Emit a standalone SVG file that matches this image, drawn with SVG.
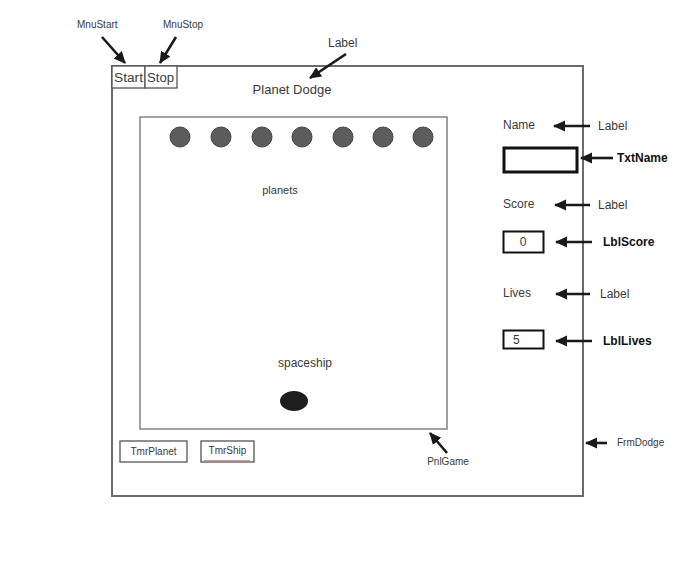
<svg xmlns="http://www.w3.org/2000/svg" width="693" height="583" viewBox="0 0 693 583">
  <style>
    text { font-family: "Liberation Sans", Arial, sans-serif; fill: #3a3a3a; }
    .sm { font-size: 10px; }
    .md { font-size: 12px; }
    .bd { font-size: 12px; font-weight: bold; fill: #111; }
    .frame { fill: #fff; stroke: #6a6a6a; stroke-width: 2; }
    .panel { fill: #fff; stroke: #8a8a8a; stroke-width: 1.6; }
    .btn { fill: #fff; stroke: #555; stroke-width: 1.3; }
    .conn { stroke: #1a1a1a; stroke-width: 2.6; fill: none; marker-end: url(#head); }
    .planet { fill: #5c5c5c; stroke: #444; stroke-width: 1; }
  </style>
  <defs>
    <marker id="head" markerUnits="userSpaceOnUse" markerWidth="13" markerHeight="13" viewBox="0 0 13 13" refX="11" refY="6.5" orient="auto">
      <path d="M0,1 L12,6.5 L0,12 Z" fill="#1a1a1a"/>
    </marker>
  </defs>
  <rect width="693" height="583" fill="#fff"/>

  <!-- main window -->
  <g id="FrmDodge">
    <rect class="frame" x="112" y="66" width="471" height="430"/>
    <text class="sm" x="617" y="446">FrmDodge</text>
  </g>

  <g id="MnuStart">
    <rect class="btn" x="112" y="66" width="33" height="22"/>
    <text class="md" x="114" y="82" textLength="29" lengthAdjust="spacingAndGlyphs">Start</text>
    <text class="sm" x="77" y="28">MnuStart</text>
  </g>
  <g id="MnuStop">
    <rect class="btn" x="145" y="66" width="32" height="22"/>
    <text class="md" x="147" y="82" textLength="27" lengthAdjust="spacingAndGlyphs">Stop</text>
    <text class="sm" x="163" y="28">MnuStop</text>
  </g>

  <g id="TitleLabel">
    <text class="md" x="328" y="47">Label</text>
    <text x="292" y="94" font-size="13" text-anchor="middle">Planet Dodge</text>
  </g>

  <!-- game panel -->
  <g id="PnlGame">
    <rect class="panel" x="140" y="117" width="307" height="312"/>
    <text class="sm" x="448" y="465" text-anchor="middle">PnlGame</text>
  </g>

  <g id="planets">
    <circle class="planet" cx="180" cy="137" r="10"/>
    <circle class="planet" cx="221" cy="137" r="10"/>
    <circle class="planet" cx="262" cy="137" r="10"/>
    <circle class="planet" cx="302" cy="137" r="10"/>
    <circle class="planet" cx="343" cy="137" r="10"/>
    <circle class="planet" cx="383" cy="137" r="10"/>
    <circle class="planet" cx="423" cy="137" r="10"/>
    <text x="280" y="194" font-size="11" text-anchor="middle">planets</text>
  </g>

  <g id="spaceship">
    <text class="md" x="305" y="367" text-anchor="middle">spaceship</text>
    <ellipse cx="294" cy="401" rx="14" ry="10" fill="#1e1e1e"/>
  </g>

  <g id="TmrPlanet">
    <rect class="btn" x="120" y="441" width="67" height="21"/>
    <text class="sm" x="153.5" y="455" text-anchor="middle">TmrPlanet</text>
  </g>
  <g id="TmrShip">
    <rect class="btn" x="201" y="441" width="53" height="21"/>
    <text class="sm" x="227.5" y="454" text-anchor="middle">TmrShip</text>
    <line x1="204" y1="460.5" x2="250" y2="460.5" stroke="#d04040" stroke-width="0.8" opacity="0.7"/>
  </g>

  <!-- side controls -->
  <g id="NameLabel">
    <text class="md" x="503" y="129">Name</text>
    <text class="md" x="598" y="130">Label</text>
  </g>
  <g id="TxtName">
    <rect x="504" y="148" width="73" height="24" fill="#fff" stroke="#111" stroke-width="3"/>
    <text class="bd" x="617" y="162">TxtName</text>
  </g>
  <g id="ScoreLabel">
    <text class="md" x="503" y="208">Score</text>
    <text class="md" x="598" y="209">Label</text>
  </g>
  <g id="LblScore">
    <rect x="503.5" y="231.5" width="40" height="21" fill="#fff" stroke="#111" stroke-width="2"/>
    <text class="md" x="523" y="246" text-anchor="middle">0</text>
    <text class="bd" x="603" y="246">LblScore</text>
  </g>
  <g id="LivesLabel">
    <text class="md" x="503" y="297">Lives</text>
    <text class="md" x="600" y="298">Label</text>
  </g>
  <g id="LblLives">
    <rect x="503.5" y="330.5" width="40" height="18" fill="#fff" stroke="#111" stroke-width="2"/>
    <text class="md" x="513" y="344">5</text>
    <text class="bd" x="603" y="345">LblLives</text>
  </g>

  <!-- callout arrows -->
  <g id="connectors">
    <line class="conn" x1="102" y1="37" x2="125" y2="63"/>
    <line class="conn" x1="176" y1="37" x2="160" y2="63"/>
    <line class="conn" x1="346" y1="54" x2="310" y2="78"/>
    <line class="conn" x1="590" y1="126" x2="554" y2="126"/>
    <line class="conn" x1="613" y1="158" x2="581" y2="158"/>
    <line class="conn" x1="590" y1="205" x2="555" y2="205"/>
    <line class="conn" x1="592" y1="242" x2="556" y2="242"/>
    <line class="conn" x1="590" y1="294" x2="556" y2="294"/>
    <line class="conn" x1="592" y1="341" x2="556" y2="341"/>
    <line class="conn" x1="447" y1="453" x2="430" y2="433"/>
    <line class="conn" x1="607" y1="443" x2="586" y2="443"/>
  </g>
</svg>
